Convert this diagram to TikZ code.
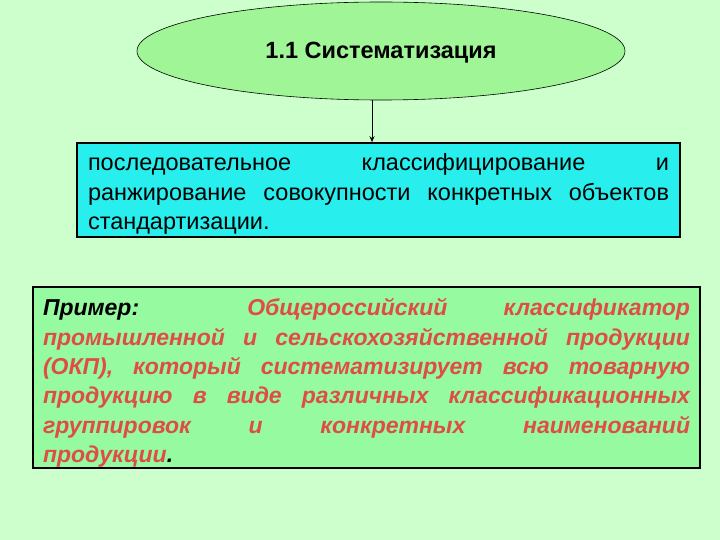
\documentclass[tikz,border=0pt]{standalone}
\usepackage{fontspec}
\setmainfont{Liberation Sans}
\usetikzlibrary{shapes.geometric,arrows.meta}
\definecolor{bg}{RGB}{204,255,204}
\definecolor{ellfill}{RGB}{160,245,150}
\definecolor{cyanfill}{RGB}{40,238,238}
\definecolor{boxfill}{RGB}{150,250,160}
\definecolor{redtext}{RGB}{222,78,70}
\tikzset{
  titleell/.style={ellipse,draw=black,line width=0.6pt,fill=ellfill,minimum width=488pt,minimum height=98pt,inner sep=0pt},
  titletext/.style={inner sep=0pt,font=\fontsize{23.5}{28}\selectfont\bfseries},
  defbox/.style={draw=black,line width=1.6pt,fill=cyanfill,minimum width=603pt,minimum height=94pt,inner sep=0pt},
  deftext/.style={text width=581pt,align=justify,inner sep=0pt,font=\fontsize{23.5}{29.5}\selectfont},
  exbox/.style={draw=black,line width=2.4pt,fill=boxfill,minimum width=667pt,minimum height=181pt,inner sep=0pt},
  extext/.style={text width=647pt,align=justify,inner sep=0pt,font=\fontsize{23}{29.3}\selectfont\bfseries\itshape},
  link/.style={draw=black,line width=1pt,-{Stealth[length=6pt,width=5pt]}}
}
\begin{document}
\begin{tikzpicture}[x=1pt,y=-1pt]
\fill[bg] (0,0) rectangle (720,540);
\useasboundingbox (0,0) rectangle (720,540);
\node[titleell] (title) at (381,51) {};
\node[titletext] (titlet) at (381,53) {1.1 Систематизация};
\node[defbox] (def) at (378.5,190) {};
\node[deftext] (deft) at (378.5,194) {последовательное классифицирование и\linebreak ранжирование совокупности конкретных объектов\linebreak стандартизации.};
\node[exbox] (ex) at (366.5,377.5) {};
\node[extext] (ext) at (366.5,383) {\color{black}Пример: \color{redtext}Общероссийский классификатор\linebreak промышленной и сельскохозяйственной продукции\linebreak (ОКП), который систематизирует всю товарную\linebreak продукцию в виде различных классификационных\linebreak группировок и конкретных наименований\linebreak продукции\color{black}.};
\draw[link] (title.south -| 372,0) -- (def.north -| 372,0);
\end{tikzpicture}
\end{document}
